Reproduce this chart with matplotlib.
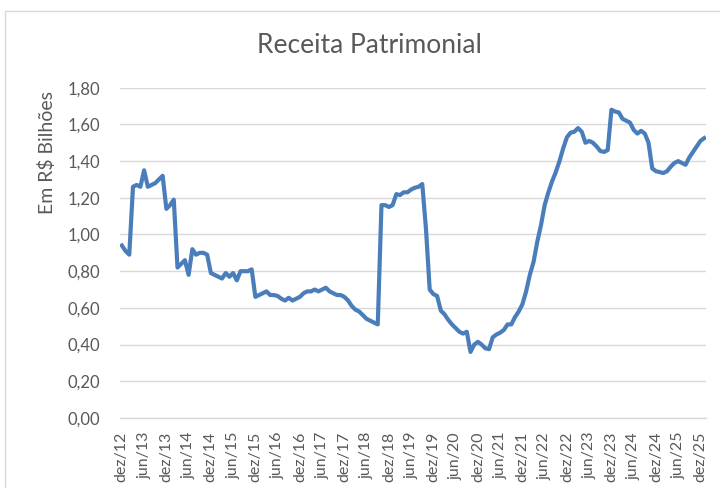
import matplotlib
matplotlib.use("Agg")
import matplotlib.pyplot as plt
from matplotlib.patches import Rectangle

plt.rcParams['font.family'] = ['Lato', 'DejaVu Sans']

title = "Receita Patrimonial"
ylabel = "Em R$ Bilhões"

meses = ["jan", "fev", "mar", "abr", "mai", "jun", "jul", "ago", "set", "out", "nov", "dez"]

values = [
    0.94, 0.91, 0.89, 1.26, 1.27, 1.26, 1.35, 1.26, 1.27, 1.28, 1.30, 1.32,
    1.14, 1.16, 1.19, 0.82, 0.84, 0.86, 0.78, 0.92, 0.89, 0.90, 0.90, 0.89,
    0.79, 0.78, 0.77, 0.76, 0.79, 0.77, 0.79, 0.75, 0.80, 0.80, 0.80, 0.81,
    0.66, 0.67, 0.68, 0.69, 0.67, 0.67, 0.665, 0.65, 0.64, 0.655, 0.64, 0.65,
    0.66, 0.68, 0.69, 0.69, 0.70, 0.69, 0.70, 0.71, 0.69, 0.68, 0.67, 0.67,
    0.66, 0.64, 0.61, 0.59, 0.58, 0.56, 0.54, 0.53, 0.52, 0.51, 1.16, 1.16,
    1.15, 1.16, 1.22, 1.215, 1.23, 1.23, 1.245, 1.255, 1.26, 1.275, 1.03, 0.70,
    0.675, 0.665, 0.585, 0.565, 0.535, 0.51, 0.49, 0.47, 0.46, 0.47, 0.36, 0.40,
    0.415, 0.40, 0.38, 0.375, 0.44, 0.455, 0.465, 0.48, 0.51, 0.51, 0.55, 0.58,
    0.62, 0.69, 0.78, 0.85, 0.96, 1.05, 1.16, 1.23, 1.29, 1.34, 1.40, 1.47,
    1.53, 1.555, 1.56, 1.58, 1.56, 1.50, 1.51, 1.50, 1.48, 1.455, 1.45, 1.46,
    1.68, 1.67, 1.665, 1.63, 1.62, 1.61, 1.57, 1.55, 1.565, 1.55, 1.50, 1.36,
    1.345, 1.34, 1.335, 1.345, 1.37, 1.39, 1.40, 1.39, 1.38, 1.42, 1.45, 1.48,
    1.51, 1.525,
]

# build category labels starting at dez/12
labels = []
m, y = 11, 12
for _ in values:
    labels.append(f"{meses[m]}/{y:02d}")
    m += 1
    if m == 12:
        m = 0
        y += 1

yticks = [0.0, 0.2, 0.4, 0.6, 0.8, 1.0, 1.2, 1.4, 1.6, 1.8]

fig = plt.figure(figsize=(7.2, 4.88), dpi=100)
fig.patch.set_facecolor("white")
fig.patches.append(Rectangle((5 / 720, -0.1), 1.2, 1.1 - 11 / 488,
                             transform=fig.transFigure, fill=False,
                             edgecolor="#d9d9d9", linewidth=1.0))

ax = fig.add_axes([120 / 720, 1 - 418 / 488, 586 / 720, (418 - 87.7) / 488])
x = list(range(len(values)))
ax.plot(x, values, color="#4a7ebb", linewidth=3.0, solid_joinstyle="round", zorder=3)

ax.set_xlim(-0.5, len(values) - 0.5)
ax.set_ylim(0, 1.8)
ax.set_yticks(yticks)
ax.set_yticklabels([f"{v:.2f}".replace(".", ",") for v in yticks])
tick_idx = list(range(0, len(values), 6))
ax.set_xticks(tick_idx)
ax.set_xticklabels([labels[i] for i in tick_idx], rotation=90)

ax.grid(axis="y", color="#d9d9d9", linewidth=1.0, zorder=0)
ax.set_axisbelow(True)
for s in ["left", "right", "top"]:
    ax.spines[s].set_visible(False)
ax.spines["bottom"].set_color("#d9d9d9")
ax.spines["bottom"].set_linewidth(1.0)
ax.tick_params(axis="both", length=0, labelcolor="#595959")
ax.tick_params(axis="y", pad=14, labelsize=12)
ax.tick_params(axis="x", pad=10, labelsize=11.5)

fig.text(47 / 720, 1 - 152 / 488, ylabel, rotation=90, ha="center", va="center",
         color="#595959", fontsize=14)
fig.text(369 / 720, 1 - 46 / 488, title, ha="center", va="center",
         color="#595959", fontsize=19)

fig.savefig("out.png", dpi=100)
